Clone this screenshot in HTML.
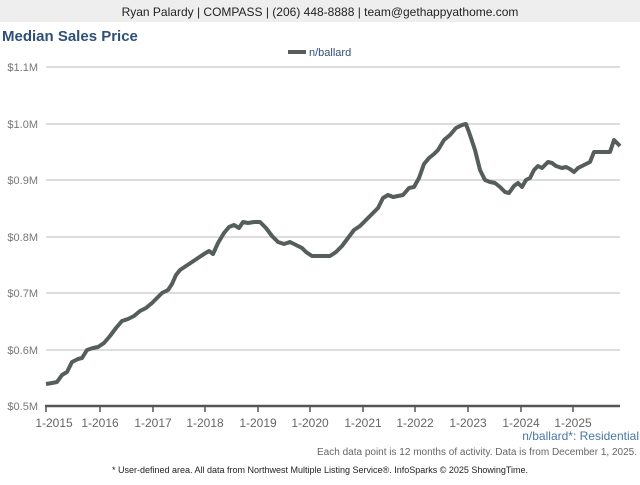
<!DOCTYPE html><html><head><style>body{margin:0;width:640px;height:480px;background:#fff;overflow:hidden;font-family:"Liberation Sans",sans-serif}</style></head><body>
<svg width="640" height="480" xmlns="http://www.w3.org/2000/svg" font-family="Liberation Sans, sans-serif">
<rect x="0" y="0" width="640" height="22" fill="#eeeeee"/>
<text x="320" y="16" font-size="12" text-anchor="middle" fill="#222">Ryan Palardy | COMPASS | (206) 448-8888 | team@gethappyathome.com</text>
<text x="2" y="41" font-size="15" font-weight="bold" fill="#2e5078">Median Sales Price</text>
<rect x="288" y="50" width="18" height="4" fill="#555e5a"/>
<text x="309" y="56" font-size="11" fill="#2e5078">n/ballard</text>
<g stroke="#bbb" stroke-width="1">
<line x1="46" y1="67" x2="620" y2="67"/><line x1="46" y1="124" x2="620" y2="124"/><line x1="46" y1="180" x2="620" y2="180"/><line x1="46" y1="237" x2="620" y2="237"/><line x1="46" y1="293" x2="620" y2="293"/><line x1="46" y1="350" x2="620" y2="350"/></g>
<g font-size="11" fill="#777" text-anchor="end">
<text x="38" y="71">$1.1M</text><text x="38" y="128">$1.0M</text><text x="38" y="184">$0.9M</text><text x="38" y="241">$0.8M</text><text x="38" y="297">$0.7M</text><text x="38" y="354">$0.6M</text><text x="38" y="410">$0.5M</text></g>
<line x1="45" y1="406" x2="620" y2="406" stroke="#555" stroke-width="2.5"/>
<g stroke="#555" stroke-width="1.5">
<line x1="46" y1="406" x2="46" y2="412"/><line x1="100" y1="406" x2="100" y2="412"/><line x1="153" y1="406" x2="153" y2="412"/><line x1="205" y1="406" x2="205" y2="412"/><line x1="258" y1="406" x2="258" y2="412"/><line x1="310" y1="406" x2="310" y2="412"/><line x1="363" y1="406" x2="363" y2="412"/><line x1="415" y1="406" x2="415" y2="412"/><line x1="468" y1="406" x2="468" y2="412"/><line x1="521" y1="406" x2="521" y2="412"/><line x1="573" y1="406" x2="573" y2="412"/></g>
<g font-size="12" fill="#666" text-anchor="middle">
<text x="54" y="427">1-2015</text><text x="100" y="427">1-2016</text><text x="153" y="427">1-2017</text><text x="205" y="427">1-2018</text><text x="258" y="427">1-2019</text><text x="310" y="427">1-2020</text><text x="363" y="427">1-2021</text><text x="415" y="427">1-2022</text><text x="468" y="427">1-2023</text><text x="521" y="427">1-2024</text><text x="573" y="427">1-2025</text></g>
<polyline fill="none" stroke="#555e5a" stroke-width="4" stroke-linejoin="round" points="46,384 52,383 57,382 62,375 67,372 72,362 78,359 82,358 87,350 93,348 98,347 104,343 110,336 116,328 122,321 128,319 134,316 140,311 146,308 152,303 158,297 162,293 168,290 172,284 176,275 180,270 186,266 192,262 198,258 204,254 209,251 213,254 218,243 224,233 229,227 234,225 239,228 243,222 248,223 254,222 260,222 266,228 272,236 278,242 284,244 290,242 296,245 302,248 306,252 312,256 318,256 324,256 330,256 336,252 342,246 348,238 354,230 360,226 366,220 372,214 378,208 383,198 388,195 393,197 398,196 403,195 409,188 414,187 419,178 424,164 429,158 434,154 438,150 444,140 450,135 456,128 462,125 466,124 470,135 475,150 480,170 485,180 490,182 495,183 500,187 505,192 509,193 514,186 518,183 522,187 526,180 530,178 534,170 538,166 542,168 548,162 552,163 556,166 562,168 566,167 570,169 574,172 578,168 584,165 590,162 594,152 600,152 606,152 610,152 614,140 620,146"/>
<text x="639" y="440" font-size="12" fill="#4a76a8" text-anchor="end">n/ballard*: Residential</text>
<text x="637" y="455" font-size="10" fill="#666" text-anchor="end">Each data point is 12 months of activity. Data is from December 1, 2025.</text>
<text x="320" y="473" font-size="9" fill="#222" text-anchor="middle">* User-defined area. All data from Northwest Multiple Listing Service®. InfoSparks © 2025 ShowingTime.</text>
</svg></body></html>
